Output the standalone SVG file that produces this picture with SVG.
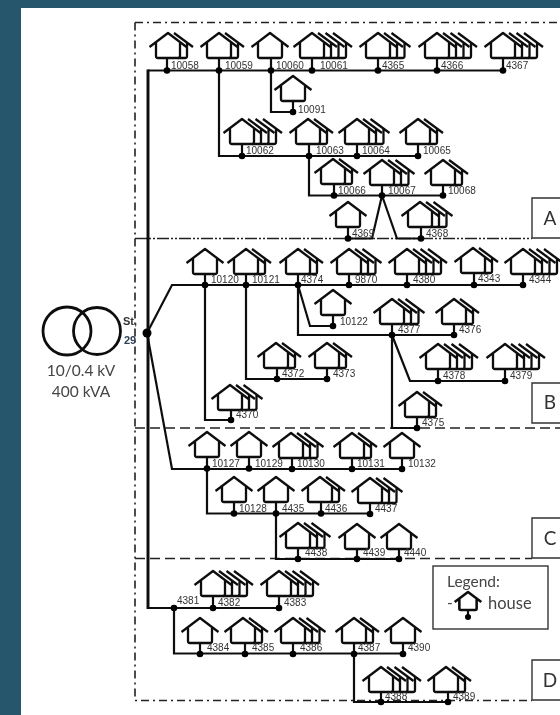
<svg xmlns="http://www.w3.org/2000/svg" width="560" height="715" viewBox="0 0 560 715">
<style>
.w{fill:none;stroke:#111;stroke-width:2.3;stroke-linejoin:round}
.c{fill:none;stroke:#111;stroke-width:2.2}
.t{fill:none;stroke:#111;stroke-width:3}
.r{fill:none;stroke:#111;stroke-width:2.8}
.m{fill:none;stroke:#111;stroke-width:3.6;stroke-linejoin:round}
.d{fill:#000}
.l{font:10px "Liberation Sans",sans-serif;fill:#333}
.s{fill:none;stroke:#222;stroke-width:1.6}
.b{fill:#fff;stroke:#333;stroke-width:1.4}
.k{font:15.5px Lato,"Liberation Sans",sans-serif;fill:#444}
.x{font:19px Lato,"Liberation Sans",sans-serif;fill:#333;text-anchor:middle}
</style>
<defs>
<filter id="soft" filterUnits="userSpaceOnUse" x="0" y="0" width="560" height="715"><feGaussianBlur stdDeviation="0.4"/></filter>
<path id="L" class="w" d="M6,0L25,14M19,9.5V23Q19,25 17,25H10"/>
<g id="h1"><path class="w" d="M-18.5,14L0,0L18.5,14M-12,9.5V23Q-12,25 -10,25H10Q12,25 12,23V9.5"/></g>
<g id="h2"><use href="#h1"/><use href="#L"/></g>
<g id="h3"><use href="#h2"/><use href="#L" x="7.5"/></g>
<g id="h4"><use href="#h3"/><use href="#L" x="15"/></g>
</defs>
<rect width="560" height="715" fill="#fff"/>
<path fill="#25566b" d="M0,0H560V8H21V715H0Z"/>
<g filter="url(#soft)">
<g id="sections">
<path class="s" stroke-dasharray="8 4 2 4" d="M135,22.5H560M135,22.5V700.500H532"/>
<path class="s" stroke-dasharray="12 2 2 2 2 2" d="M135,238.500H532"/>
<path class="s" stroke-dasharray="10 5" d="M135,428H560M135,558.500H532"/>
<path class="b" d="M560,198H532V238H560"/><text class="x" x="550" y="225">A</text>
<path class="b" d="M560,383H532V423H560"/><text class="x" x="550" y="409">B</text>
<path class="b" d="M560,518H532V558H560"/><text class="x" x="550" y="545">C</text>
<path class="b" d="M560,660H532V700H560"/><text class="x" x="550" y="687">D</text>
</g>
<g id="connectors">
<path class="t" d="M148,69.500V609"/>
<path class="c" d="M148,70.500H503M219,70.500V156H418M271,70.500V112H293M309,156V195.500H443M382,195.500L372,238.500H348M382,195.500L397,238.500H421"/>
<path class="c" d="M147,333L172,285H523M205,285V420H231M246,285V379H327M298,285L310,326H333M298,285V335H454M392,335V428H417M392,335L410,381H505"/>
<path class="c" d="M147,333L172,469H402M207,469V513.500H370M276,513.500V559H399"/>
<path class="c" d="M148,608H279M174,608V653.500H403M354,653.500V702H448"/>
</g>
<g id="transformer">
<circle class="r" cx="67" cy="331" r="24"/><circle class="r" cx="97" cy="331" r="23.500"/>
<circle class="d" cx="147" cy="333" r="4.500"/>
<text class="k" x="81" y="376" text-anchor="middle">10/0.4 kV</text>
<text class="k" x="81" y="397" text-anchor="middle">400 kVA</text>
<text x="123" y="325" style="font:bold 11px 'Liberation Sans',sans-serif;fill:#333">St,</text>
<text x="124" y="344" style="font:bold 11px 'Liberation Sans',sans-serif;fill:#2d4057">29</text>
</g>
<g id="n10058"><use href="#h2" x="168" y="33"/><path class="c" d="M167,58V70"/><circle class="d" cx="167" cy="70.500" r="3.300"/><text class="l" x="171" y="68.500">10058</text></g>
<g id="n10059"><use href="#h2" x="219" y="33"/><path class="c" d="M219,58V70"/><circle class="d" cx="219" cy="70.500" r="3.300"/><text class="l" x="225" y="68.500">10059</text></g>
<g id="n10060"><use href="#h1" x="270" y="33"/><path class="c" d="M271,58V70"/><circle class="d" cx="271" cy="70.500" r="3.300"/><text class="l" x="276" y="68.500">10060</text></g>
<g id="n10061"><use href="#h4" x="312" y="33"/><path class="c" d="M312,58V70"/><circle class="d" cx="312" cy="70.500" r="3.300"/><text class="l" x="320" y="68.500">10061</text></g>
<g id="n4365"><use href="#h3" x="378" y="33"/><path class="c" d="M378,58V70"/><circle class="d" cx="378" cy="70.500" r="3.300"/><text class="l" x="382" y="68.500">4365</text></g>
<g id="n4366"><use href="#h4" x="437" y="33"/><path class="c" d="M437,58V70"/><circle class="d" cx="437" cy="70.500" r="3.300"/><text class="l" x="441" y="68.500">4366</text></g>
<g id="n4367"><use href="#h4" x="503" y="33"/><path class="c" d="M503,58V70"/><circle class="d" cx="503" cy="70.500" r="3.300"/><text class="l" x="506" y="68.500">4367</text></g>
<g id="n10091"><use href="#h1" x="293" y="76"/><path class="c" d="M293,101V112"/><circle class="d" cx="293" cy="112" r="3.300"/><text class="l" x="298" y="112.500">10091</text></g>
<g id="n10062"><use href="#h4" x="242" y="119"/><path class="c" d="M242,144V156"/><circle class="d" cx="242" cy="156" r="3.300"/><text class="l" x="246" y="154">10062</text></g>
<g id="n10063"><use href="#h2" x="308" y="119"/><path class="c" d="M309,144V156"/><circle class="d" cx="309" cy="156" r="3.300"/><text class="l" x="316" y="154">10063</text></g>
<g id="n10064"><use href="#h3" x="357" y="119"/><path class="c" d="M357,144V156"/><circle class="d" cx="357" cy="156" r="3.300"/><text class="l" x="362" y="154">10064</text></g>
<g id="n10065"><use href="#h2" x="418" y="119"/><path class="c" d="M418,144V156"/><circle class="d" cx="418" cy="156" r="3.300"/><text class="l" x="423" y="154">10065</text></g>
<g id="n10066"><use href="#h2" x="333" y="159"/><path class="c" d="M334,184V195"/><circle class="d" cx="334" cy="195.500" r="3.300"/><text class="l" x="338" y="193.500">10066</text></g>
<g id="n10067"><use href="#h3" x="382" y="160"/><path class="c" d="M382,185V195"/><circle class="d" cx="382" cy="195.500" r="3.300"/><text class="l" x="388" y="193.500">10067</text></g>
<g id="n10068"><use href="#h2" x="443" y="160"/><path class="c" d="M443,185V195"/><circle class="d" cx="443" cy="195.500" r="3.300"/><text class="l" x="448" y="193.500">10068</text></g>
<g id="n4369"><use href="#h1" x="348" y="202"/><path class="c" d="M348,227V238"/><circle class="d" cx="348" cy="238.500" r="3.300"/><text class="l" x="352" y="236.500">4369</text></g>
<g id="n4368"><use href="#h3" x="420" y="202"/><path class="c" d="M421,227V238"/><circle class="d" cx="421" cy="238.500" r="3.300"/><text class="l" x="426" y="236.500">4368</text></g>
<g id="n10120"><use href="#h1" x="205" y="249"/><path class="c" d="M205,274V285"/><circle class="d" cx="205" cy="285" r="3.300"/><text class="l" x="211" y="283">10120</text></g>
<g id="n10121"><use href="#h2" x="246" y="249"/><path class="c" d="M246,274V285"/><circle class="d" cx="246" cy="285" r="3.300"/><text class="l" x="252" y="283">10121</text></g>
<g id="n4374"><use href="#h2" x="298" y="249"/><path class="c" d="M298,274V285"/><circle class="d" cx="298" cy="285" r="3.300"/><text class="l" x="301" y="283">4374</text></g>
<g id="n9870"><use href="#h3" x="349" y="249"/><path class="c" d="M349,274V285"/><circle class="d" cx="349" cy="285" r="3.300"/><text class="l" x="355" y="283">9870</text></g>
<g id="n4380"><use href="#h4" x="407" y="249"/><path class="c" d="M407,274V285"/><circle class="d" cx="407" cy="285" r="3.300"/><text class="l" x="413" y="283">4380</text></g>
<g id="n4343"><use href="#h2" x="473" y="248"/><path class="c" d="M474,273V285"/><circle class="d" cx="474" cy="285" r="3.300"/><text class="l" x="478" y="282">4343</text></g>
<g id="n4344"><use href="#h4" x="523" y="249"/><path class="c" d="M523,274V285"/><circle class="d" cx="523" cy="285" r="3.300"/><text class="l" x="529" y="283">4344</text></g>
<g id="n10122"><use href="#h1" x="333" y="290"/><path class="c" d="M333,315V326"/><circle class="d" cx="333" cy="326" r="3.300"/><text class="l" x="340" y="325">10122</text></g>
<g id="n4377"><use href="#h3" x="392" y="299"/><path class="c" d="M392,324V335"/><circle class="d" cx="392" cy="335" r="3.300"/><text class="l" x="398" y="333">4377</text></g>
<g id="n4376"><use href="#h2" x="454" y="299"/><path class="c" d="M454,324V335"/><circle class="d" cx="454" cy="335" r="3.300"/><text class="l" x="459" y="333">4376</text></g>
<g id="n4372"><use href="#h2" x="276" y="343"/><path class="c" d="M277,368V379"/><circle class="d" cx="277" cy="379" r="3.300"/><text class="l" x="282" y="377">4372</text></g>
<g id="n4373"><use href="#h2" x="327" y="343"/><path class="c" d="M327,368V379"/><circle class="d" cx="327" cy="379" r="3.300"/><text class="l" x="333" y="377">4373</text></g>
<g id="n4378"><use href="#h4" x="438" y="344"/><path class="c" d="M438,369V381"/><circle class="d" cx="438" cy="381" r="3.300"/><text class="l" x="443" y="379">4378</text></g>
<g id="n4379"><use href="#h4" x="505" y="344"/><path class="c" d="M505,369V381"/><circle class="d" cx="505" cy="381" r="3.300"/><text class="l" x="510" y="379">4379</text></g>
<g id="n4370"><use href="#h3" x="230" y="385"/><path class="c" d="M231,410V420"/><circle class="d" cx="231" cy="420" r="3.300"/><text class="l" x="236" y="418">4370</text></g>
<g id="n4375"><use href="#h2" x="417" y="392"/><path class="c" d="M417,417V428"/><circle class="d" cx="417" cy="428" r="3.300"/><text class="l" x="422" y="426">4375</text></g>
<g id="n10127"><use href="#h1" x="207" y="432"/><path class="c" d="M207,457V469"/><circle class="d" cx="207" cy="468.500" r="3.300"/><text class="l" x="212" y="467">10127</text></g>
<g id="n10129"><use href="#h1" x="249" y="432"/><path class="c" d="M249,457V469"/><circle class="d" cx="249" cy="468.500" r="3.300"/><text class="l" x="255" y="467">10129</text></g>
<g id="n10130"><use href="#h3" x="291" y="433"/><path class="c" d="M292,458V469"/><circle class="d" cx="292" cy="469" r="3.300"/><text class="l" x="297" y="467">10130</text></g>
<g id="n10131"><use href="#h2" x="352" y="433"/><path class="c" d="M352,458V469"/><circle class="d" cx="352" cy="469" r="3.300"/><text class="l" x="357" y="467">10131</text></g>
<g id="n10132"><use href="#h1" x="402" y="433"/><path class="c" d="M402,458V469"/><circle class="d" cx="402" cy="469" r="3.300"/><text class="l" x="408" y="467">10132</text></g>
<g id="n10128"><use href="#h1" x="234" y="477"/><path class="c" d="M234,502V513"/><circle class="d" cx="234" cy="513.500" r="3.300"/><text class="l" x="239" y="511.500">10128</text></g>
<g id="n4435"><use href="#h1" x="276" y="477"/><path class="c" d="M276,502V513"/><circle class="d" cx="276" cy="513.500" r="3.300"/><text class="l" x="282" y="511.500">4435</text></g>
<g id="n4436"><use href="#h2" x="320" y="477"/><path class="c" d="M321,502V513"/><circle class="d" cx="321" cy="513.500" r="3.300"/><text class="l" x="325" y="511.500">4436</text></g>
<g id="n4437"><use href="#h3" x="370" y="478"/><path class="c" d="M370,503V514"/><circle class="d" cx="370" cy="514" r="3.300"/><text class="l" x="375" y="512">4437</text></g>
<g id="n4438"><use href="#h3" x="298" y="523"/><path class="c" d="M298,548V559"/><circle class="d" cx="298" cy="559" r="3.300"/><text class="l" x="305" y="556">4438</text></g>
<g id="n4439"><use href="#h1" x="357" y="524"/><path class="c" d="M357,549V559"/><circle class="d" cx="357" cy="559" r="3.300"/><text class="l" x="363" y="556">4439</text></g>
<g id="n4440"><use href="#h1" x="399" y="524"/><path class="c" d="M399,549V559"/><circle class="d" cx="399" cy="559" r="3.300"/><text class="l" x="404" y="556">4440</text></g>
<g id="n4381"><circle class="d" cx="174" cy="608" r="3.300"/><text class="l" x="177" y="604">4381</text></g>
<g id="n4382"><use href="#h4" x="213" y="571"/><path class="c" d="M213,596V608"/><circle class="d" cx="213" cy="608" r="3.300"/><text class="l" x="218" y="606">4382</text></g>
<g id="n4383"><use href="#h4" x="279" y="571"/><path class="c" d="M279,596V608"/><circle class="d" cx="279" cy="608" r="3.300"/><text class="l" x="284" y="606">4383</text></g>
<g id="n4384"><use href="#h1" x="200" y="618"/><path class="c" d="M200,643V654"/><circle class="d" cx="200" cy="654" r="3.300"/><text class="l" x="207" y="651">4384</text></g>
<g id="n4385"><use href="#h2" x="243" y="618"/><path class="c" d="M245,643V654"/><circle class="d" cx="245" cy="654" r="3.300"/><text class="l" x="252" y="651">4385</text></g>
<g id="n4386"><use href="#h3" x="293" y="618"/><path class="c" d="M293,643V654"/><circle class="d" cx="293" cy="654" r="3.300"/><text class="l" x="300" y="651">4386</text></g>
<g id="n4387"><use href="#h2" x="354" y="618"/><path class="c" d="M354,643V654"/><circle class="d" cx="354" cy="654" r="3.300"/><text class="l" x="358" y="651">4387</text></g>
<g id="n4390"><use href="#h1" x="403" y="618"/><path class="c" d="M403,643V654"/><circle class="d" cx="403" cy="654" r="3.300"/><text class="l" x="408" y="651">4390</text></g>
<g id="n4388"><use href="#h4" x="381" y="667"/><path class="c" d="M381,692V702"/><circle class="d" cx="381" cy="702" r="3.300"/><text class="l" x="385" y="700">4388</text></g>
<g id="n4389"><use href="#h2" x="446" y="667"/><path class="c" d="M448,692V702"/><circle class="d" cx="448" cy="702" r="3.300"/><text class="l" x="453" y="700">4389</text></g>
<g id="legend">
<rect class="b" x="433" y="566" width="115" height="63"/>
<text class="k" x="447" y="587">Legend:</text>
<text class="k" x="447" y="608">-</text>
<path class="m" transform="translate(468,592) scale(.72)" d="M-18.5,14L0,0L18.500,14M-12,9.500V23Q-12,25 -10,25H10Q12,25 12,23V9.500"/>
<path class="c" d="M468,610V617"/><circle class="d" cx="468" cy="617" r="3"/>
<text class="k" x="488" y="609" style="font-size:16.500px">house</text>
</g>
</g>
</svg>
